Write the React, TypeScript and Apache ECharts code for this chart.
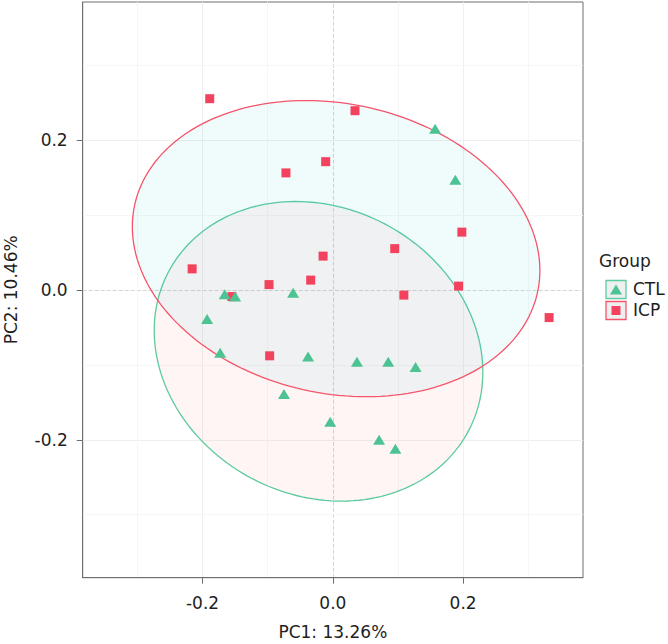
import React, { useEffect, useRef } from 'react';
import * as echarts from 'echarts';

const groups = ['CTL', 'ICP'];

const ctlX = [0.157, 0.188, -0.166, -0.150, -0.061, -0.193, -0.173, -0.038, 0.037, 0.085, 0.127, -0.075, -0.004, 0.071, 0.096];
const ctlY = [0.215, 0.147, -0.006, -0.009, -0.004, -0.039, -0.084, -0.089, -0.096, -0.096, -0.103, -0.139, -0.176, -0.200, -0.212];

const icpX = [-0.189, 0.034, -0.011, -0.072, 0.198, 0.095, -0.015, -0.216, -0.034, -0.098, 0.193, 0.109, -0.155, -0.097, 0.332];
const icpY = [0.255, 0.239, 0.171, 0.156, 0.077, 0.055, 0.045, 0.028, 0.013, 0.007, 0.005, -0.007, -0.009, -0.088, -0.037];

// 95% ellipses (center, semi-axes, rotation of major axis in degrees)
const ellipseCx = [-0.022, 0.005];
const ellipseCy = [-0.082, 0.055];
const ellipseA = [0.256, 0.315];
const ellipseB = [0.195, 0.194];
const ellipseAngle = [-15.3, -8.6];

const tickValues = [-0.2, 0, 0.2];
const minorGrid = [-0.3, -0.1, 0.1, 0.3];
const axisMin = -0.384;
const axisMax = 0.384;

const GREEN = '#4DC293';
const RED = '#F2425E';
const GREEN_LINE = '#5CCB9E';
const RED_LINE = '#F5546B';
const FILLS = ['rgba(248,118,109,0.07)', 'rgba(0,191,196,0.06)'];
const STROKES = [GREEN_LINE, RED_LINE];
const FONT = 'DejaVu Sans';
const TEXT = '#1e1e1e';
const FS = 17;

export default function App() {
  const ref = useRef<HTMLDivElement>(null);
  useEffect(() => {
    if (!ref.current) return;
    const chart = echarts.init(ref.current, undefined, { renderer: 'svg' });

    const gridLines: any[] = [];
    tickValues.forEach((v) => {
      const style = v === 0
        ? { color: '#d4d4d4', type: 'dashed', width: 1 }
        : { color: '#efefef', type: 'solid', width: 1 };
      gridLines.push({ xAxis: v, lineStyle: style });
      gridLines.push({ yAxis: v, lineStyle: style });
    });
    minorGrid.forEach((v) => {
      const style = { color: '#f6f6f6', type: 'solid', width: 1 };
      gridLines.push({ xAxis: v, lineStyle: style });
      gridLines.push({ yAxis: v, lineStyle: style });
    });

    const ellipseData = groups.map((_, i) => [ellipseCx[i], ellipseCy[i], i]);

    const axisCommon = {
      type: 'value',
      min: axisMin,
      max: axisMax,
      splitLine: { show: false },
      axisLine: { show: true, onZero: false, lineStyle: { color: '#6e6e6e', width: 1 } },
      axisTick: { show: true, customValues: tickValues, length: 6, lineStyle: { color: '#6e6e6e' } },
      axisLabel: {
        customValues: tickValues,
        fontFamily: FONT,
        fontSize: FS,
        color: TEXT,
        formatter: (v: number) => v.toFixed(1),
      },
      nameLocation: 'middle',
      nameTextStyle: { fontFamily: FONT, fontSize: FS, color: TEXT },
    };

    const option: any = {
      animation: false,
      backgroundColor: '#ffffff',
      grid: {
        left: 82.7,
        right: 85,
        top: 2,
        bottom: 66.3,
        show: true,
        borderColor: '#6e6e6e',
        borderWidth: 1,
        backgroundColor: 'transparent',
        outerBoundsMode: 'none',
      },
      xAxis: {
        ...axisCommon,
        name: 'PC1: 13.26%',
        nameGap: 46,
        axisLabel: { ...axisCommon.axisLabel, margin: 17 },
      },
      yAxis: {
        ...axisCommon,
        name: 'PC2: 10.46%',
        nameGap: 63,
        axisLabel: { ...axisCommon.axisLabel, margin: 15 },
      },
      series: [
        {
          type: 'line',
          data: [],
          silent: true,
          z: 0,
          markLine: {
            silent: true,
            symbol: 'none',
            z: 0,
            label: { show: false },
            data: gridLines,
          },
        },
        {
          type: 'custom',
          silent: true,
          z: 1,
          data: ellipseData,
          encode: { x: 0, y: 1 },
          renderItem: (params: any, api: any) => {
            const i = api.value(2);
            const cx = ellipseCx[i];
            const cy = ellipseCy[i];
            const a = ellipseA[i];
            const b = ellipseB[i];
            const th = (ellipseAngle[i] * Math.PI) / 180;
            const pts: number[][] = [];
            const n = 180;
            for (let k = 0; k < n; k++) {
              const t = (2 * Math.PI * k) / n;
              const x = cx + a * Math.cos(t) * Math.cos(th) - b * Math.sin(t) * Math.sin(th);
              const y = cy + a * Math.cos(t) * Math.sin(th) + b * Math.sin(t) * Math.cos(th);
              pts.push(api.coord([x, y]));
            }
            return {
              type: 'polygon',
              shape: { points: pts },
              style: { fill: FILLS[i], stroke: STROKES[i], lineWidth: 1.3 },
            };
          },
        },
        {
          name: 'CTL',
          type: 'scatter',
          z: 6,
          symbol: 'triangle',
          symbolSize: [12, 10],
          itemStyle: { color: GREEN, opacity: 1, borderWidth: 0 },
          data: ctlX.map((x, i) => [x, ctlY[i]]),
        },
        {
          name: 'ICP',
          type: 'scatter',
          z: 5,
          symbol: 'rect',
          symbolSize: 9,
          itemStyle: { color: RED, opacity: 1, borderWidth: 0 },
          data: icpX.map((x, i) => [x, icpY[i]]),
        },
      ],
      graphic: [
        {
          type: 'text',
          left: 599,
          top: 252,
          style: { text: 'Group', fontFamily: FONT, fontSize: FS, fill: TEXT },
        },
        {
          type: 'rect',
          shape: { x: 606, y: 280.5, width: 20, height: 18 },
          style: { fill: '#eef0f0', stroke: GREEN_LINE, lineWidth: 1.3 },
        },
        {
          type: 'polygon',
          shape: { points: [[616, 284.5], [610, 294.5], [622, 294.5]] },
          style: { fill: GREEN },
        },
        {
          type: 'rect',
          shape: { x: 606, y: 301.5, width: 20, height: 18 },
          style: { fill: '#eef0f0', stroke: RED_LINE, lineWidth: 1.3 },
        },
        {
          type: 'rect',
          shape: { x: 611.5, y: 306, width: 9, height: 9 },
          style: { fill: RED },
        },
        {
          type: 'text',
          left: 633,
          top: 280.5,
          style: { text: 'CTL', fontFamily: FONT, fontSize: FS, fill: TEXT },
        },
        {
          type: 'text',
          left: 633,
          top: 301.5,
          style: { text: 'ICP', fontFamily: FONT, fontSize: FS, fill: TEXT },
        },
      ],
    };

    chart.setOption(option);
    return () => chart.dispose();
  }, []);

  return (
    <div
      ref={ref}
      style={{ position: 'fixed', left: 0, top: 0, width: 668, height: 644, background: '#fff' }}
    />
  );
}
